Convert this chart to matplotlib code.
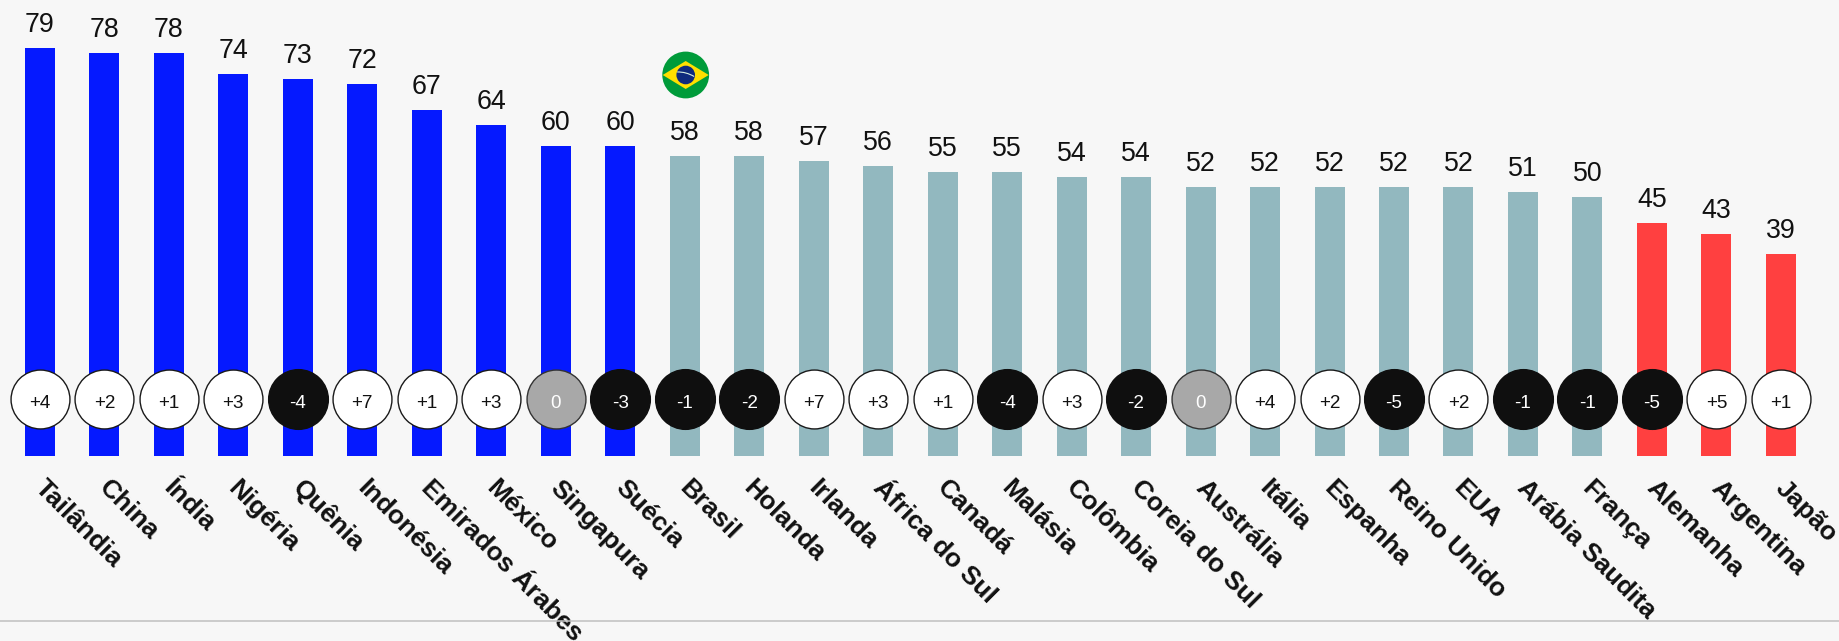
import matplotlib
matplotlib.use("Agg")
import matplotlib.pyplot as plt
from matplotlib.patches import Circle, Polygon, PathPatch
from matplotlib.path import Path

plt.rcParams['font.family'] = ['Liberation Sans', 'DejaVu Sans']

countries = ["Tailândia", "China", "Índia", "Nigéria", "Quênia", "Indonésia", "Emirados Árabes",
             "México", "Singapura", "Suécia", "Brasil", "Holanda", "Irlanda", "África do Sul",
             "Canadá", "Malásia", "Colômbia", "Coreia do Sul", "Austrália", "Itália", "Espanha",
             "Reino Unido", "EUA", "Arábia Saudita", "França", "Alemanha", "Argentina", "Japão"]
values = [79, 78, 78, 74, 73, 72, 67, 64, 60, 60, 58, 58, 57, 56, 55, 55, 54, 54,
          52, 52, 52, 52, 52, 51, 50, 45, 43, 39]
changes = [4, 2, 1, 3, -4, 7, 1, 3, 0, -3, -1, -2, 7, 3, 1, -4, 3, -2, 0, 4, 2, -5, 2, -1, -1, -5, 5, 1]

BLUE, TEAL, RED = "#0519ff", "#92b8bf", "#ff4040"
BG = "#f7f7f7"

W, H = 1839, 641
x0, dx = 39.9, 64.48        # pixel centre of first bar, spacing
base, unit = 455.5, 5.162   # pixel y of zero, pixels per point

fig = plt.figure(figsize=(W / 100, H / 100), dpi=100, facecolor=BG)
ax = fig.add_axes([0, 0, 1, 1], facecolor=BG)
ax.set_xlim(-x0 / dx, (W - x0) / dx)
ax.set_ylim((base - H) / unit, base / unit)
ax.axis("off")

def bar_color(v):
    return BLUE if v >= 60 else (TEAL if v >= 50 else RED)

idx = list(range(len(countries)))
ax.bar(idx, values, width=30 / dx, color=[bar_color(v) for v in values], linewidth=0, zorder=1)

badge_y = (base - 399) / unit
for i, (v, c, name) in enumerate(zip(values, changes, countries)):
    ax.annotate(str(v), (i, v), xytext=(0, 11.5), textcoords="offset points",
                ha="center", va="baseline", fontsize=19.3, color="#111111", zorder=4)
    if c > 0:
        fc, ec, tc, s, lw, d = "white", "#1a1a1a", "#111111", f"+{c}", 1.0, 42.4
    elif c < 0:
        fc, ec, tc, s, lw, d = "#0f0f0f", "#0f0f0f", "white", str(c), 1.0, 43.0
    else:
        fc, ec, tc, s, lw, d = "#a8a8a8", "#333333", "white", "0", 1.0, 42.4
    ax.scatter([i], [badge_y], s=d ** 2, c=fc, edgecolors=ec, linewidths=lw, zorder=2)
    ax.annotate(s, (i, badge_y), xytext=(0, -6.8), textcoords="offset points",
                ha="center", va="baseline", fontsize=13.6, color=tc, zorder=3)
    ax.annotate(name, (i, 0), xytext=(5, -14.5), textcoords="offset points",
                ha="left", va="top", rotation=-45, rotation_mode="anchor",
                fontsize=19.0, fontweight="bold", color="#111111", annotation_clip=False, zorder=3)

# horizontal rule near bottom
fig.add_artist(plt.Line2D([0, 1], [1 - 621 / H] * 2, color="#c0c0c0", lw=1.1))

# Brazil flag above the Brasil bar
fw = 48
fx = x0 + dx * countries.index("Brasil") + 1
fa = fig.add_axes([(fx - fw / 2) / W, 1 - (75 + fw / 2) / H, fw / W, fw / H], facecolor="none")
fa.set_xlim(-24, 24); fa.set_ylim(-24, 24); fa.axis("off")
fa.add_patch(Circle((0, 0), 23.4, fc="#009b3a", ec="none"))
fa.add_patch(Polygon([(-23, 0), (0, 14), (23, 0), (0, -14)], fc="#ffdf00", ec="none"))
fa.add_patch(Circle((0, 0), 9.3, fc="#0f2a7d", ec="none"))
fa.add_patch(PathPatch(Path([(-8.5, 3), (0, 3.4), (8.5, -1.5)],
                            [Path.MOVETO, Path.CURVE3, Path.CURVE3]),
                       fc="none", ec="#d8efe0", lw=0.8))

fig.savefig("out.png", dpi=100, facecolor=BG)
